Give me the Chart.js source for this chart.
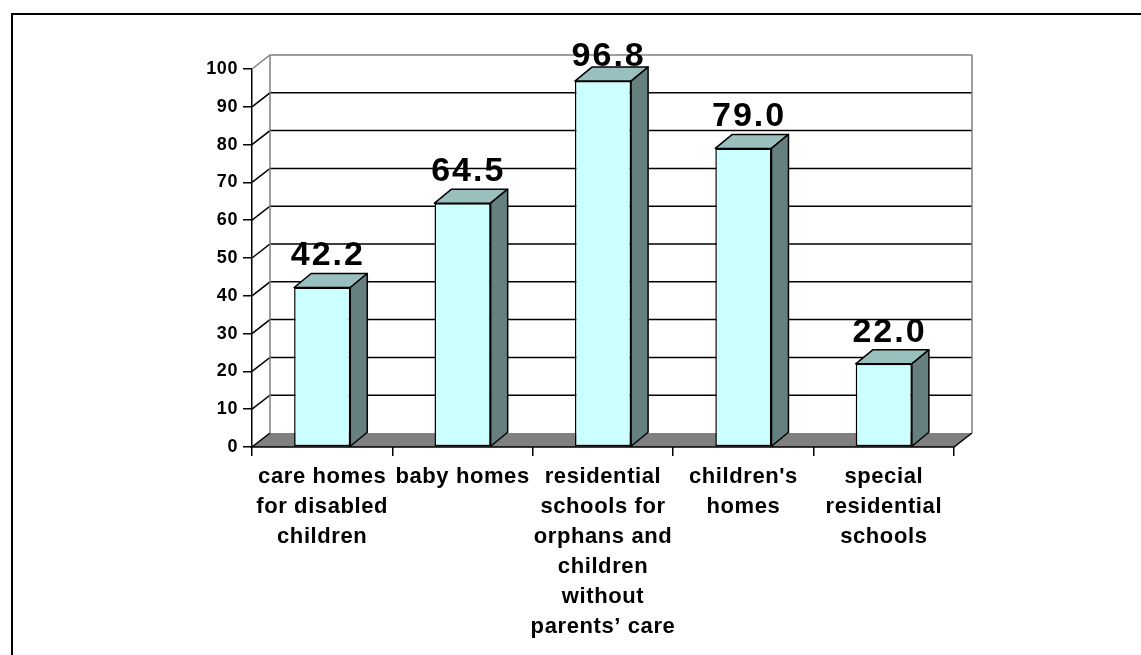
<!DOCTYPE html>
<html>
<head>
<meta charset="utf-8">
<script src="https://cdn.jsdelivr.net/npm/chart.js@4/dist/chart.umd.min.js"></script>
<style>
  html, body { margin: 0; padding: 0; background: #fff; }
  canvas { display: block; }
</style>
</head>
<body>
<canvas id="chart" width="1141" height="655"></canvas>
<script>
// categories (multi-line labels as drawn under the axis)
var categories = [
    ['care homes', 'for disabled', 'children'],
    ['baby homes'],
    ['residential', 'schools for', 'orphans and', 'children', 'without', 'parents\u2019 care'],
    ["children's", 'homes'],
    ['special', 'residential', 'schools']
];
var values = [42.2, 64.5, 96.8, 79.0, 22.0];
var yTicks = [0, 10, 20, 30, 40, 50, 60, 70, 80, 90, 100];

var FONT = "'Liberation Sans', Arial, sans-serif";
// depth of the 3d box (walls / floor and the bars)
var DX = 18, DY = 14;
var BDX = 17, BDY = 14;

var frame3d = {
    id: 'frame3d',
    beforeDraw: function (chart) {
        const ctx = chart.ctx;
        ctx.save();
        ctx.fillStyle = '#fff';
        ctx.fillRect(0, 0, chart.width, chart.height);
        // outer frame
        ctx.strokeStyle = '#000';
        ctx.lineWidth = 2;
        ctx.beginPath();
        ctx.moveTo(12, chart.height);
        ctx.lineTo(12, 14);
        ctx.lineTo(chart.width, 14);
        ctx.stroke();
        ctx.restore();
        // wider spacing for the axis labels
        ctx.letterSpacing = '0.6px';
    },
    beforeDatasetsDraw: function (chart) {
        const ctx = chart.ctx;
        ctx.letterSpacing = '0px';
        const y = chart.scales.y, a = chart.chartArea;
        const l = a.left, r = a.right;
        const y0 = y.getPixelForValue(0);
        const yTop = y.getPixelForValue(yTicks[yTicks.length - 1]);
        ctx.save();
        ctx.lineWidth = 1.5;
        // floor
        ctx.fillStyle = '#808080';
        ctx.beginPath();
        ctx.moveTo(l, y0);
        ctx.lineTo(r, y0);
        ctx.lineTo(r + DX, y0 - DY);
        ctx.lineTo(l + DX, y0 - DY);
        ctx.closePath();
        ctx.fill();
        ctx.strokeStyle = '#000';
        ctx.beginPath();
        ctx.moveTo(l + DX, y0 - DY);
        ctx.lineTo(l, y0);
        ctx.lineTo(r, y0);
        ctx.lineTo(r + DX, y0 - DY);
        ctx.stroke();
        // gridlines on the back wall and the left side wall
        yTicks.forEach(function (v) {
            if (v === 0) return;
            const py = y.getPixelForValue(v);
            const last = v === yTicks[yTicks.length - 1];
            ctx.strokeStyle = last ? '#808080' : '#000';
            ctx.beginPath();
            ctx.moveTo(l, py);
            ctx.lineTo(l + DX, py - DY);
            ctx.lineTo(r + DX, py - DY);
            ctx.stroke();
        });
        // wall edges
        ctx.strokeStyle = '#808080';
        ctx.beginPath();
        ctx.moveTo(l + DX, yTop - DY);
        ctx.lineTo(l + DX, y0 - DY);
        ctx.moveTo(r + DX, yTop - DY);
        ctx.lineTo(r + DX, y0 - DY);
        ctx.stroke();
        ctx.restore();
    },
    afterDatasetsDraw: function (chart) {
        const ctx = chart.ctx;
        const meta = chart.getDatasetMeta(0);
        ctx.save();
        ctx.lineWidth = 1.5;
        ctx.strokeStyle = '#000';
        ctx.lineJoin = 'round';
        meta.data.forEach(function (bar, i) {
            const p = bar.getProps(['x', 'y', 'base', 'width'], true);
            const x1 = p.x - p.width / 2, x2 = p.x + p.width / 2;
            // top face
            ctx.fillStyle = '#99BFBF';
            ctx.beginPath();
            ctx.moveTo(x1, p.y);
            ctx.lineTo(x2, p.y);
            ctx.lineTo(x2 + BDX, p.y - BDY);
            ctx.lineTo(x1 + BDX, p.y - BDY);
            ctx.closePath();
            ctx.fill();
            ctx.stroke();
            // side face
            ctx.fillStyle = '#668080';
            ctx.beginPath();
            ctx.moveTo(x2, p.y);
            ctx.lineTo(x2 + BDX, p.y - BDY);
            ctx.lineTo(x2 + BDX, p.base - BDY);
            ctx.lineTo(x2, p.base);
            ctx.closePath();
            ctx.fill();
            ctx.stroke();
            // value label, kept from rising above the plot top
            const by = Math.max(p.y - BDY - 8, chart.chartArea.top - 3);
            ctx.fillStyle = '#000';
            ctx.font = 'bold 34px ' + FONT;
            ctx.letterSpacing = '2px';
            ctx.textAlign = 'center';
            ctx.textBaseline = 'alphabetic';
            ctx.fillText(values[i].toFixed(1), p.x + BDX / 3, by);
        });
        ctx.restore();
    }
};

const ctx = document.getElementById('chart');
var myChart = new Chart(ctx, {
    type: 'bar',
    data: {
        labels: categories,
        datasets: [
            {
                data: values,
                backgroundColor: '#CCFFFF',
                borderColor: '#000',
                borderWidth: 1.5,
                borderSkipped: false,
                categoryPercentage: 0.8,
                barPercentage: 0.5,
            },
        ],
    },
    options: {
        responsive: false,
        animation: false,
        devicePixelRatio: 1,
        layout: {
            padding: { left: 150, top: 69, right: 187, bottom: 0 }
        },
        plugins: {
            legend: { display: false },
            tooltip: { enabled: false },
        },
        scales: {
            x: {
                grid: {
                    offset: true,
                    drawOnChartArea: false,
                    tickLength: 9,
                    color: '#000',
                    lineWidth: 1.5,
                },
                border: { display: false },
                ticks: {
                    color: '#000',
                    maxRotation: 0,
                    autoSkip: false,
                    padding: 6,
                    font: { family: FONT, size: 22, weight: 'bold', lineHeight: 1.36 },
                },
                afterFit: function (scale) { scale.height = 655 - 447; },
            },
            y: {
                min: 0,
                max: 100,
                grid: {
                    drawOnChartArea: false,
                    tickLength: 9,
                    color: '#000',
                    lineWidth: 1.5,
                },
                border: { color: '#000', width: 1.5 },
                ticks: {
                    stepSize: 10,
                    color: '#000',
                    padding: 5,
                    font: { family: FONT, size: 18, weight: 'bold' },
                },
                afterFit: function (scale) { scale.width = 102; },
            },
        },
    },
    plugins: [frame3d],
});
</script>
</body>
</html>
